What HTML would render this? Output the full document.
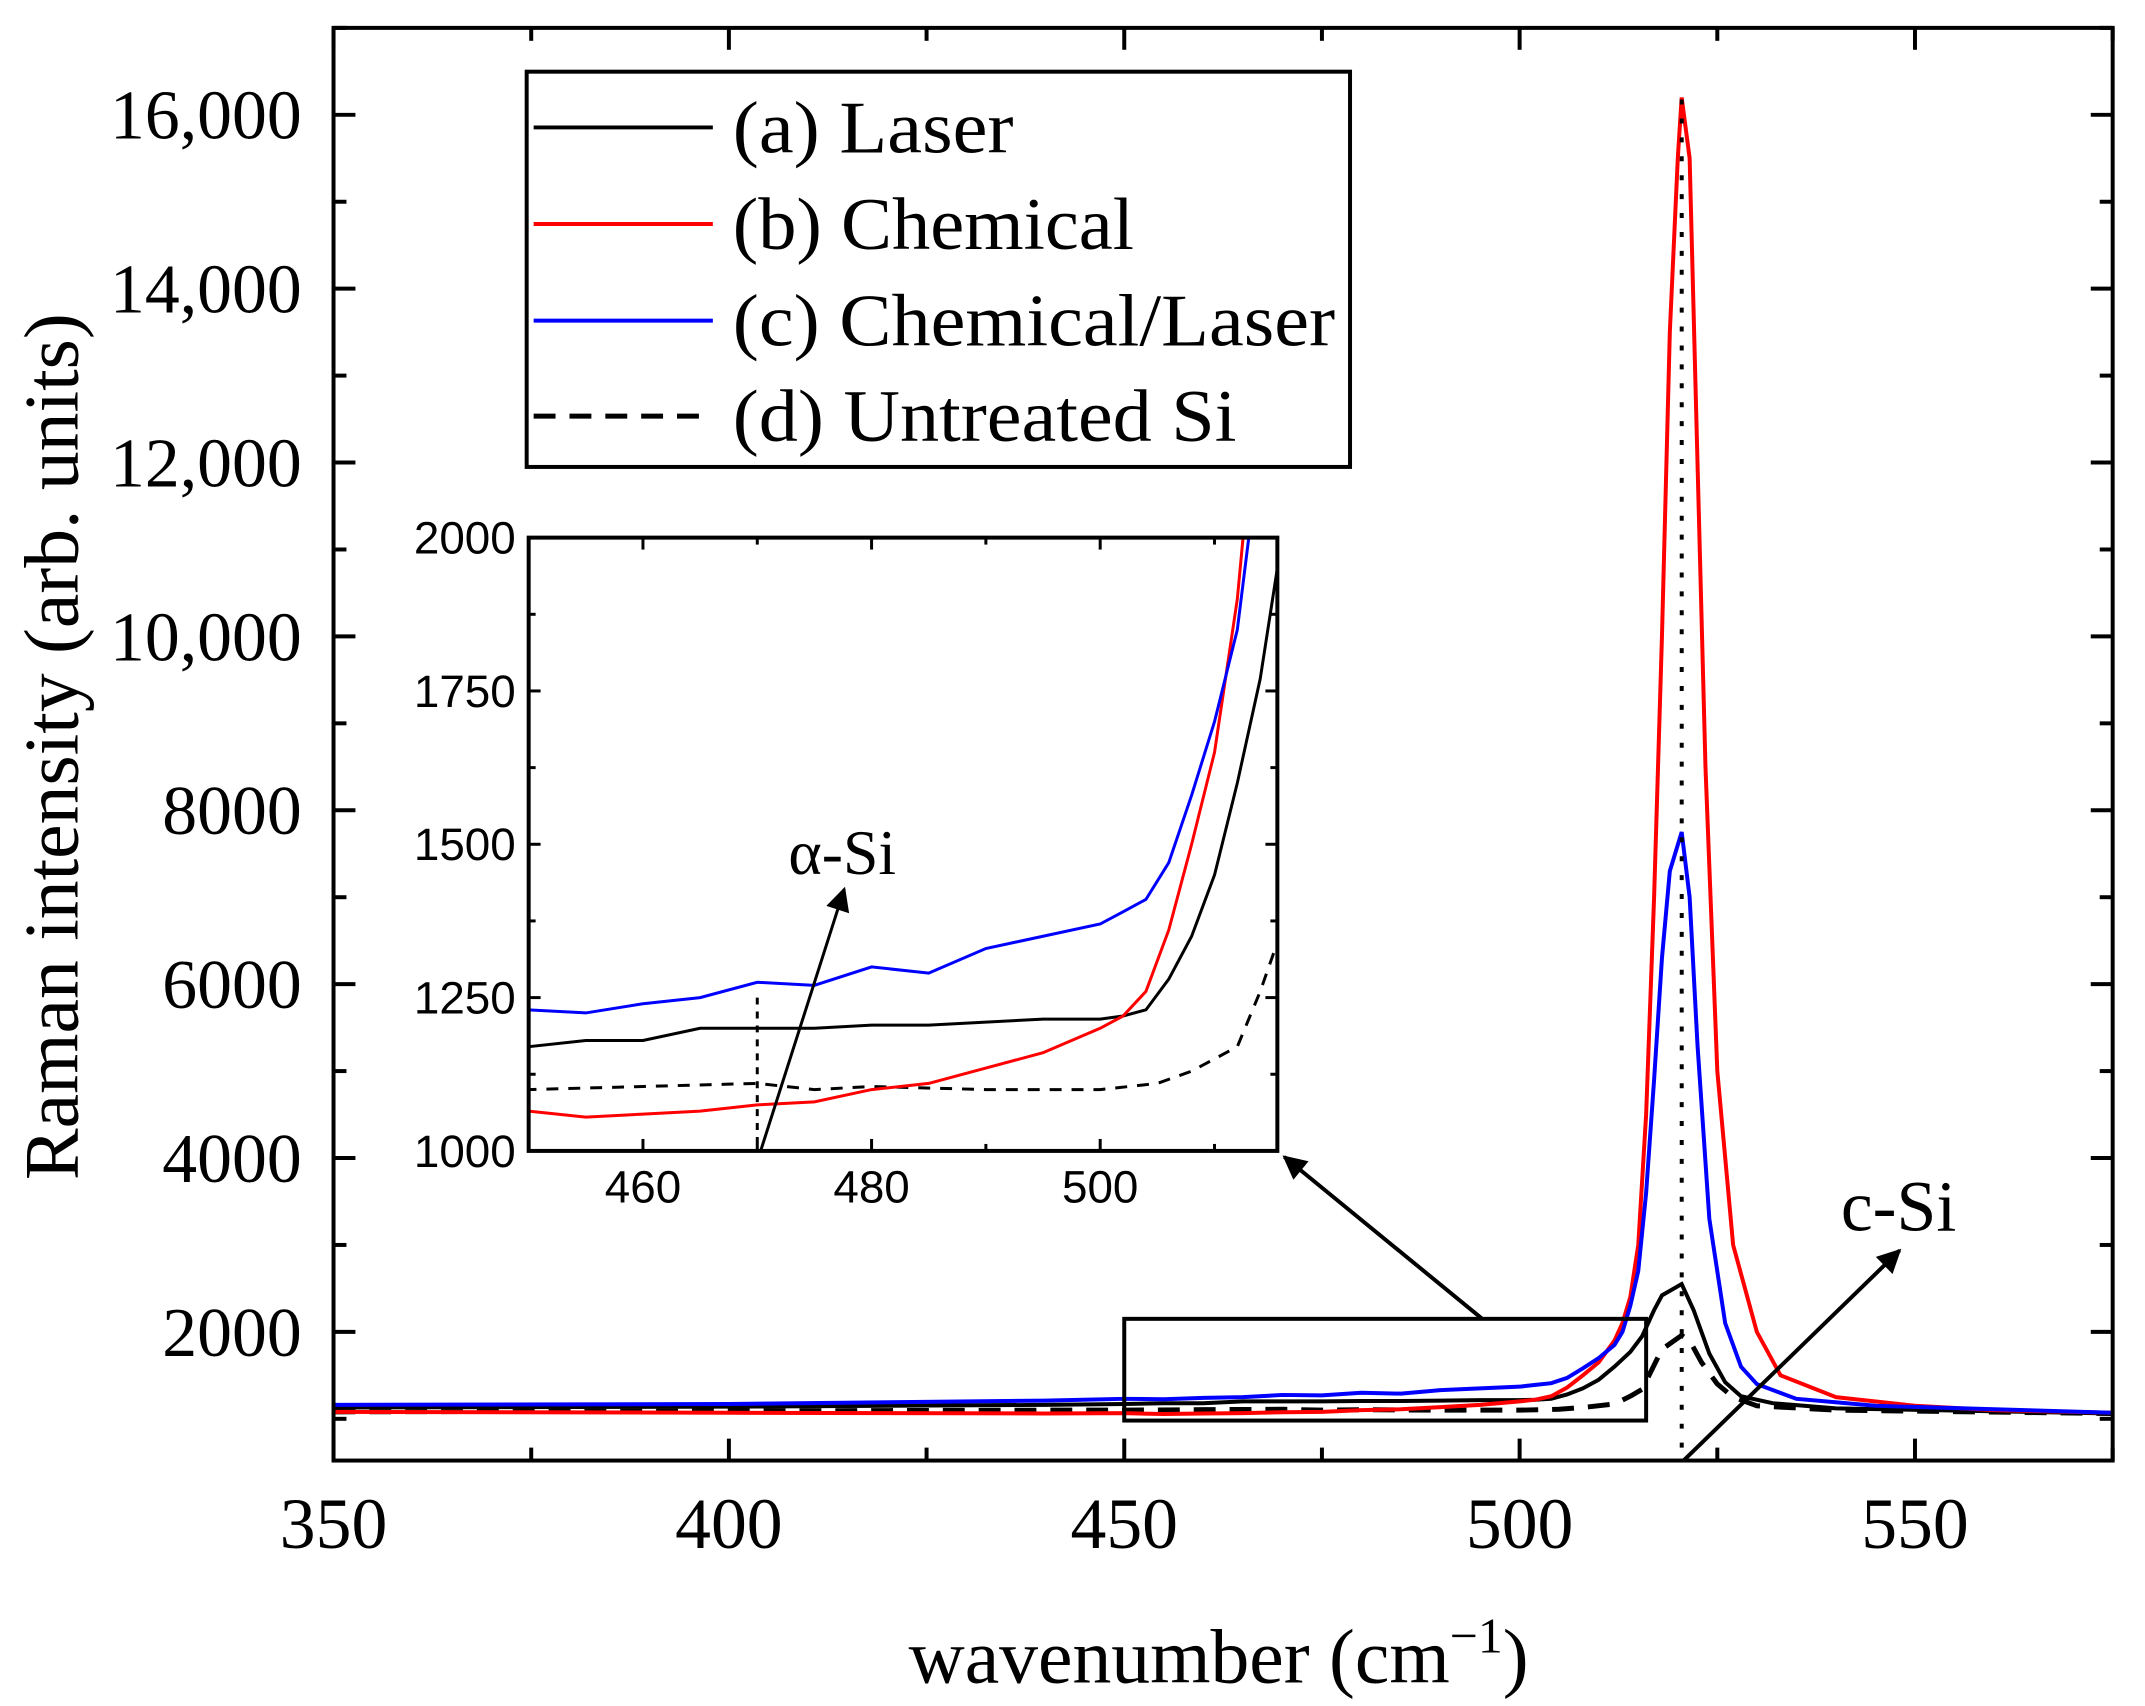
<!DOCTYPE html>
<html><head><meta charset="utf-8"><style>
html,body{margin:0;padding:0;background:#fff;}
svg{display:block;}
.serif{font-family:"Liberation Serif",serif;}
.sans{font-family:"Liberation Sans",sans-serif;}
</style></head><body>
<svg id="chart" width="2145" height="1706" viewBox="0 0 2145 1706" xmlns="http://www.w3.org/2000/svg">
<defs>
<clipPath id="mainclip"><rect x="335" y="28" width="1787" height="1439"/></clipPath>
<clipPath id="insetclip"><rect x="531" y="540" width="752" height="616"/></clipPath>
<marker id="ah2" viewBox="0 0 10 10" refX="9" refY="5" markerWidth="32" markerHeight="24" orient="auto" markerUnits="userSpaceOnUse"><path d="M0,0 L10,5 L0,10 z" fill="#000"/></marker>
</defs>
<g transform="scale(0.9956)">
<g id="main"></g>
<g id="inset"></g>
<g id="annot"></g>
</g>
</svg>
<script>
// ---- data ----
const redX = [350,400,440,450,455,460,465,470,475,480,485,490,495,500,502,504,506,508,510,512,513,514,515,516,517,518,519,520,520.5,521.5,522.5,523.5,525,527,530,533,540,550,560,575];
const redY = [1080,1070,1062,1065,1055,1060,1065,1075,1080,1100,1110,1135,1160,1200,1220,1260,1360,1500,1650,1900,2100,2400,3000,4500,7000,10000,13500,15500,16200,15500,12000,8500,5000,3000,2000,1500,1250,1150,1100,1070];
const blueX = [350,400,440,450,455,460,465,470,475,480,485,490,495,500,502,504,506,508,510,512,513,514,515,516,517,518,519,520.5,521.5,522.5,524,526,528,530,535,545,575];
const blueY = [1160,1170,1210,1230,1225,1240,1250,1275,1270,1300,1290,1330,1350,1370,1390,1410,1470,1580,1700,1850,2000,2300,2700,3600,4900,6300,7300,7750,7000,5300,3300,2100,1600,1400,1230,1150,1070];
const blackX = [350,400,440,450,455,460,465,470,475,480,485,490,495,500,502,504,506,508,510,512,514,515.5,517,518,520.5,522,524,526,528,532,540,575];
const blackY = [1130,1140,1160,1170,1180,1180,1200,1200,1200,1205,1205,1210,1215,1215,1220,1230,1280,1350,1450,1600,1770,1950,2250,2420,2550,2250,1750,1420,1260,1180,1120,1060];
const dashX = [350,400,440,450,460,470,475,480,490,500,505,508,512,514,515.5,518,520.5,521.5,523,525,527,530,540,575];
const dashY = [1080,1090,1100,1100,1105,1110,1100,1105,1100,1100,1110,1130,1170,1260,1340,1800,1960,1900,1650,1400,1250,1150,1100,1060];
const xTicks = [350,400,450,500,550];
const yTicks = [2000,4000,6000,8000,10000,12000,14000,16000];
const yTickLabels = ["2000","4000","6000","8000","10,000","12,000","14,000","16,000"];
const insetXTicks = [460,480,500];
const insetYTicks = [1000,1250,1500,1750,2000];

const NS="http://www.w3.org/2000/svg";
function mk(tag,attrs,parent){const e=document.createElementNS(NS,tag);for(const k in attrs)e.setAttribute(k,attrs[k]);parent.appendChild(e);return e;}
const X=v=>335+(v-350)*(1787/225);
const Y=v=>1467-(v-520)*(1439/16480);
const IX=v=>531+(v-450)*(752/65.5);
const IY=v=>1156-(v-1000)*0.616;

const main=document.getElementById('main');
const inset=document.getElementById('inset');
const annot=document.getElementById('annot');

const series=[
 {x:blackX,y:blackY,c:'#000',dash:null,n:'laser'},
 {x:dashX,y:dashY,c:'#000',dash:'22,14',n:'untreated-si'},
 {x:redX,y:redY,c:'#ff0000',dash:null,n:'chemical'},
 {x:blueX,y:blueY,c:'#0000ff',dash:null,n:'chemical-laser'}
];
series.forEach(s=>{
  const d=s.x.map((v,i)=>(i?'L':'M')+X(v).toFixed(1)+','+Y(s.y[i]).toFixed(1)).join('');
  const p=mk('path',{d:d,fill:'none',stroke:s.c,'stroke-width':s.dash?5:4,'clip-path':'url(#mainclip)'},main);
  if(s.dash)p.setAttribute('stroke-dasharray',s.dash);
  
  
  const d2=s.x.map((v,i)=>(i?'L':'M')+IX(v).toFixed(1)+','+IY(s.y[i]).toFixed(1)).join('');
  const p2=mk('path',{d:d2,fill:'none',stroke:s.c,'stroke-width':3,'clip-path':'url(#insetclip)'},inset);
  if(s.dash)p2.setAttribute('stroke-dasharray','12,10');
  
  
});
const fr=mk('rect',{x:335,y:28,width:1787,height:1439,fill:'none',stroke:'#000','stroke-width':4},main);


for(let v=350;v<=575;v+=25){
  const major=(v%50===0);const L=major?22:13;
  mk('line',{x1:X(v),y1:1467,x2:X(v),y2:1467-L,stroke:'#000','stroke-width':4},main);
  mk('line',{x1:X(v),y1:28,x2:X(v),y2:28+L,stroke:'#000','stroke-width':4},main);
}
xTicks.forEach(v=>{
  const t=mk('text',{x:X(v),y:1555,'text-anchor':'middle','font-size':72,class:'serif'},main);
  t.textContent=v;
  
  
});
for(let v=1000;v<=17000;v+=1000){
  const major=(v%2000===0);const L=major?22:13;
  mk('line',{x1:335,y1:Y(v),x2:335+L,y2:Y(v),stroke:'#000','stroke-width':4},main);
  mk('line',{x1:2122,y1:Y(v),x2:2122-L,y2:Y(v),stroke:'#000','stroke-width':4},main);
}
yTicks.forEach((v,i)=>{
  const t=mk('text',{x:303,y:Y(v)+24,'text-anchor':'end','font-size':70,class:'serif'},main);
  t.textContent=yTickLabels[i];
  
  
});
const yt=mk('text',{x:0,y:0,'text-anchor':'middle','font-size':78,class:'serif',transform:'translate(78,750) rotate(-90)'},main);
yt.textContent='Raman intensity (arb. units)';


const xt=mk('text',{x:1224,y:1690,'text-anchor':'middle','font-size':78,class:'serif'},main);
xt.innerHTML='wavenumber (cm<tspan dy="-30" font-size="50">−1</tspan><tspan dy="30">)</tspan>';


const dl=mk('line',{x1:X(520.5),y1:100,x2:X(520.5),y2:1467,stroke:'#000','stroke-width':4,'stroke-dasharray':'5,14'},main);



const bg=mk('rect',{x:531,y:540,width:752,height:616,fill:'#fff',stroke:'none'},inset);


inset.insertBefore(bg,inset.firstChild);
const ifr=mk('rect',{x:531,y:540,width:752,height:616,fill:'none',stroke:'#000','stroke-width':4},inset);


for(let v=450;v<=515;v+=10){
  const L=(v%20===0)?12:7;
  mk('line',{x1:IX(v),y1:1156,x2:IX(v),y2:1156-L,stroke:'#000','stroke-width':3},inset);
  mk('line',{x1:IX(v),y1:540,x2:IX(v),y2:540+L,stroke:'#000','stroke-width':3},inset);
}
for(let v=1000;v<=2000;v+=125){
  const L=(v%250===0)?12:7;
  mk('line',{x1:531,y1:IY(v),x2:531+L,y2:IY(v),stroke:'#000','stroke-width':3},inset);
  mk('line',{x1:1283,y1:IY(v),x2:1283-L,y2:IY(v),stroke:'#000','stroke-width':3},inset);
}
insetXTicks.forEach(v=>{
  const t=mk('text',{x:IX(v),y:1208,'text-anchor':'middle','font-size':46,class:'sans'},inset);
  t.textContent=v;
  
  
});
insetYTicks.forEach(v=>{
  const t=mk('text',{x:518,y:IY(v)+16,'text-anchor':'end','font-size':46,class:'sans'},inset);
  t.textContent=v;
  
  
});
const idl=mk('line',{x1:IX(470),y1:IY(1250),x2:IX(470),y2:1156,stroke:'#000','stroke-width':3,'stroke-dasharray':'7,7'},inset);



const zb=mk('rect',{x:X(450),y:Y(2150),width:X(516)-X(450),height:Y(980)-Y(2150),fill:'none',stroke:'#000','stroke-width':4},annot);


const a1=mk('line',{x1:1488,y1:1324,x2:1290,y2:1162,stroke:'#000','stroke-width':4,'marker-end':'url(#ah2)'},annot);


const a2=mk('line',{x1:1691,y1:1467,x2:1908,y2:1256,stroke:'#000','stroke-width':4,'marker-end':'url(#ah2)'},annot);


const a3=mk('line',{x1:764,y1:1156,x2:848,y2:893,stroke:'#000','stroke-width':3,'marker-end':'url(#ah2)'},annot);


const l1=mk('text',{x:1907,y:1236,'text-anchor':'middle','font-size':72,class:'serif'},annot);
l1.textContent='c-Si';


const l2=mk('text',{x:846,y:878,'text-anchor':'middle','font-size':64,class:'serif'},annot);
l2.textContent='α-Si';



const lg=mk('g',{},annot);


mk('rect',{x:529,y:72,width:827,height:397,fill:'#fff',stroke:'#000','stroke-width':4},lg);
const legNames=['(a) Laser','(b) Chemical','(c) Chemical/Laser','(d) Untreated Si'];
const legColors=['#000','#ff0000','#0000ff','#000'];
const legYs=[128,225,322,418];
const legW=[282,403,605,506];
legNames.forEach((n,i)=>{
  const ln=mk('line',{x1:536,y1:legYs[i],x2:716,y2:legYs[i],stroke:legColors[i],'stroke-width':i===3?5:4},lg);
  if(i===3)ln.setAttribute('stroke-dasharray','22,14');
  
  
  const t=mk('text',{x:736,y:legYs[i]+25,'font-size':74,class:'serif',textLength:legW[i],lengthAdjust:'spacingAndGlyphs'},lg);
  t.textContent=n;
  
  
});
</script>
</body></html>
